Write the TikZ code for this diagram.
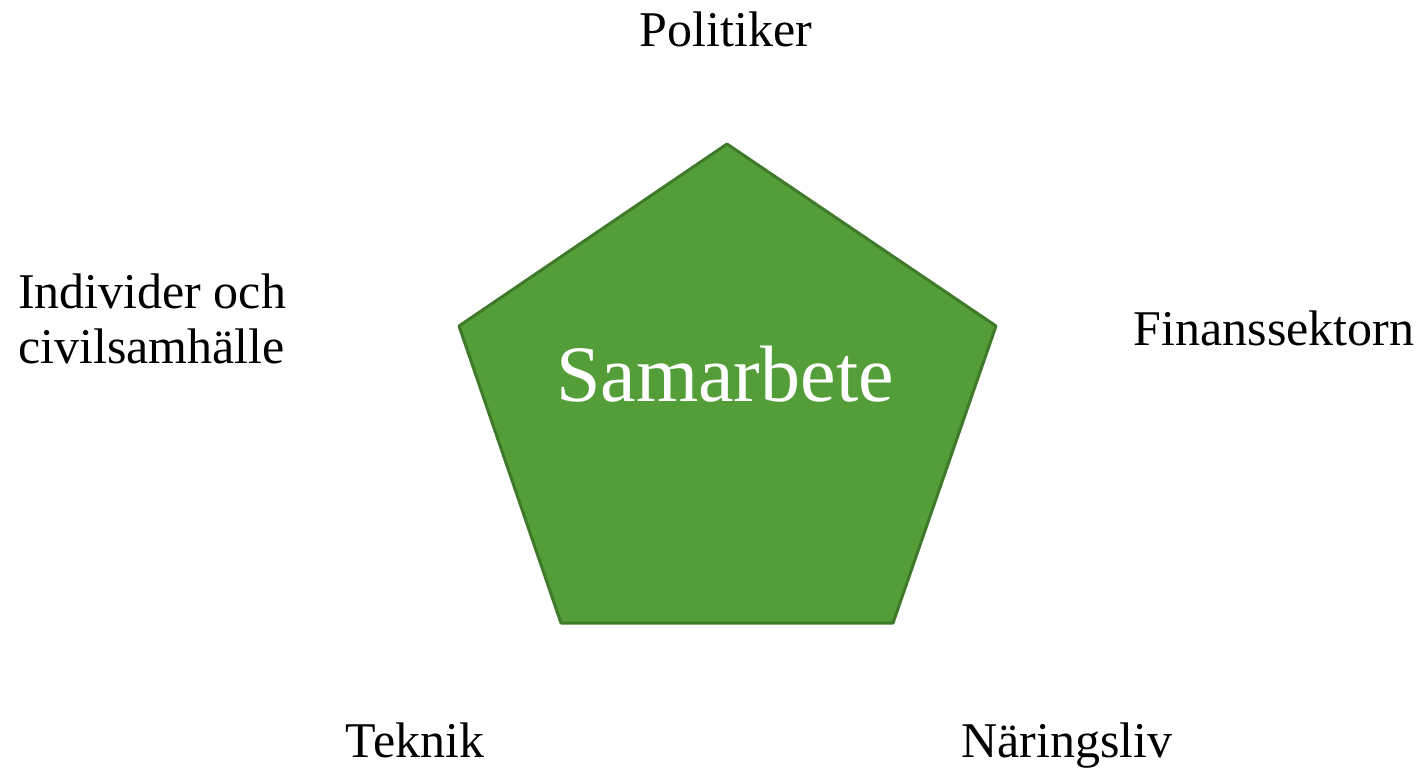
\documentclass[tikz,border=0pt]{standalone}
\usepackage{fontspec}
\setmainfont{Liberation Serif}
\definecolor{pentfill}{HTML}{549E39}
\definecolor{pentline}{HTML}{3F7A2A}
\begin{document}
\begin{tikzpicture}[x=1pt,y=-1pt,
  lab/.style={inner sep=0pt, font=\fontsize{50}{60}\selectfont, text=black},
  pent/.style={fill=pentfill, draw=pentline, line width=3pt, line join=round}]
\useasboundingbox (0,0) rectangle (1427,768);
\coordinate (p1) at (727,144);
\coordinate (p2) at (996,326);
\coordinate (p3) at (893,623);
\coordinate (p4) at (561,623);
\coordinate (p5) at (459,326);
\draw[pent] (p1) -- (p2) -- (p3) -- (p4) -- (p5) -- cycle;
\node[lab, anchor=base, text=white, font=\fontsize{80}{96}\selectfont] (sam) at (725,401) {Samarbete};
\node[lab, anchor=base] (pol) at (726,47) {Politiker};
\node[lab, anchor=base west] (ind1) at (18,308) {Individer och};
\node[lab, anchor=base west] (ind2) at (18,363) {civilsamhälle};
\node[lab, anchor=base] (fin) at (1274,345) {Finanssektorn};
\node[lab, anchor=base] (tek) at (415,757) {Teknik};
\node[lab, anchor=base] (nar) at (1067,757) {Näringsliv};
\end{tikzpicture}
\end{document}
